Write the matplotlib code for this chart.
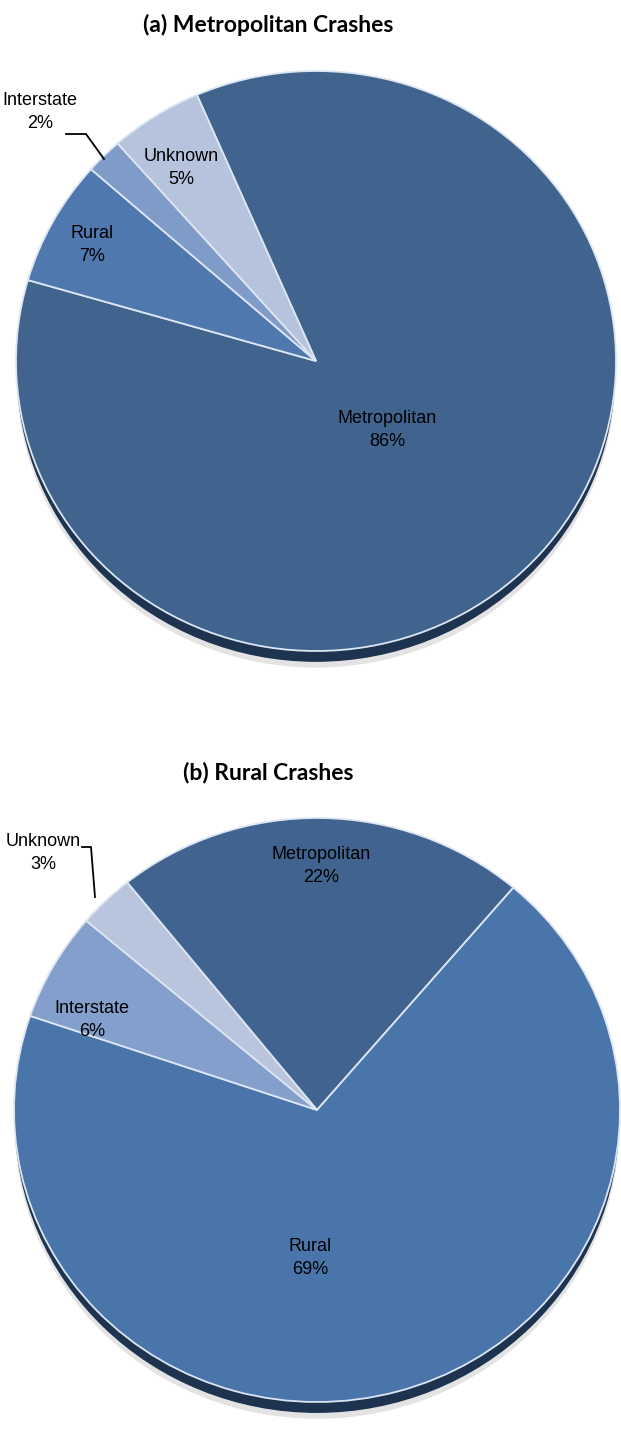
import matplotlib
matplotlib.use("Agg")
import matplotlib.pyplot as plt
from matplotlib.patches import Ellipse
from matplotlib.lines import Line2D

W, H = 621, 1429

# data
categories_a = ["Metropolitan", "Rural", "Interstate", "Unknown"]
values_a = [86, 7, 2, 5]
categories_b = ["Metropolitan", "Rural", "Interstate", "Unknown"]
values_b = [22, 69, 6, 3]

colors_a = ["#41648F", "#4F78AE", "#7F9BC8", "#B6C3DC"]
colors_b = ["#40648F", "#4A75AB", "#849FCB", "#B8C5DD"]
EDGE = "#DCE6F2"
SHADOW = "#1E3350"

LABEL_FONT = ["Liberation Sans Narrow", "Liberation Sans", "DejaVu Sans"]
TITLE_FONT = ["Lato", "DejaVu Sans"]

fig = plt.figure(figsize=(W / 100, H / 100), dpi=100)


def px(x, y):
    return x / W, 1 - y / H


def pie_axes(cx, cy, rx, ry):
    return fig.add_axes([(cx - rx) / W, 1 - (cy + ry) / H, 2 * rx / W, 2 * ry / H])


def draw_pie(ax, values, colors, start):
    ax.add_patch(Ellipse((0, -0.055), 1.99, 2.0, color="#e3e3e3", zorder=0, clip_on=False))
    ax.add_patch(Ellipse((0, -0.035), 1.99, 2.0, color=SHADOW, zorder=1, clip_on=False))
    wedges, _ = ax.pie(values, colors=colors, startangle=start, counterclock=False,
                       radius=1.0, wedgeprops=dict(edgecolor=EDGE, linewidth=1.3))
    for w in wedges:
        w.set_zorder(2)
    ax.set_aspect("auto")
    ax.set_xlim(-1, 1)
    ax.set_ylim(-1, 1)
    ax.axis("off")


def label(x, y, name, pct):
    fig.text(*px(x, y), f"{name}\n{pct}%", ha="center", va="center", fontsize=13,
             family=LABEL_FONT, color="black", linespacing=1.5)


def leader(points):
    xs = [p[0] / W for p in points]
    ys = [1 - p[1] / H for p in points]
    fig.add_artist(Line2D(xs, ys, color="black", lw=1.3, transform=fig.transFigure))


# (a) Metropolitan crashes
fig.text(*px(268, 25), "(a) Metropolitan Crashes", ha="center", va="center",
         fontsize=16.5, fontweight="bold", family=TITLE_FONT)
ax_a = pie_axes(316, 361, 300, 290)
draw_pie(ax_a, values_a, colors_a, 113.4)
label(387, 430, categories_a[0], values_a[0])
label(92, 245, categories_a[1], values_a[1])
label(181, 168, categories_a[3], values_a[3])
label(40, 112, categories_a[2], values_a[2])
leader([(66, 134), (86, 134), (104, 159)])

# (b) Rural crashes
fig.text(*px(268, 772), "(b) Rural Crashes", ha="center", va="center",
         fontsize=16.5, fontweight="bold", family=TITLE_FONT)
ax_b = pie_axes(317, 1110, 303, 292)
draw_pie(ax_b, values_b, colors_b, 128.8)
label(321, 866, categories_b[0], values_b[0])
label(310, 1258, categories_b[1], values_b[1])
label(92, 1020, categories_b[2], values_b[2])
label(43, 853, categories_b[3], values_b[3])
leader([(82, 847), (91, 847), (95, 897)])

fig.savefig("out.png", dpi=100, facecolor="white")
